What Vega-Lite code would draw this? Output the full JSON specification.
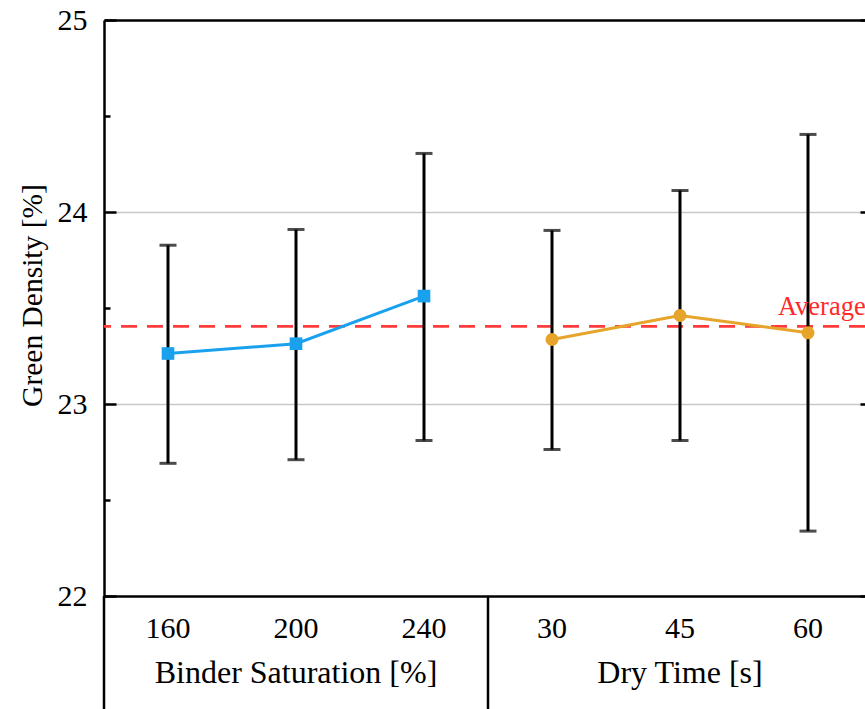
{
  "$schema": "https://vega.github.io/schema/vega-lite/v6.json",
  "autosize": {"type": "none"},
  "padding": {"left": 104, "top": 20, "right": 0, "bottom": 113},
  "width": 761,
  "height": 576,
  "config": {
    "view": {"stroke": null},
    "font": "Liberation Serif",
    "axis": {"labelColor": "black", "titleColor": "black", "tickColor": "black", "domainColor": "black", "titleFontWeight": "normal"}
  },
  "datasets": {
    "pts": [
      {"label": "160", "group": "Binder Saturation", "mean": 23.263, "lo": 22.691, "hi": 23.827},
      {"label": "200", "group": "Binder Saturation", "mean": 23.314, "lo": 22.71, "hi": 23.909},
      {"label": "240", "group": "Binder Saturation", "mean": 23.562, "lo": 22.81, "hi": 24.305},
      {"label": "30", "group": "Dry Time", "mean": 23.336, "lo": 22.763, "hi": 23.904},
      {"label": "45", "group": "Dry Time", "mean": 23.461, "lo": 22.81, "hi": 24.112},
      {"label": "60", "group": "Dry Time", "mean": 23.371, "lo": 22.338, "hi": 24.404}
    ],
    "avg": [{"avg": 23.404, "label": "60", "text": "Average"}],
    "groups": [
      {"label": "200", "name": "Binder Saturation [%]"},
      {"label": "45", "name": "Dry Time [s]"}
    ],
    "seps": [{"label": "160"}, {"label": "30"}]
  },
  "resolve": {"axis": {"x": "independent", "y": "independent"}},
  "layer": [
    {
      "data": {"name": "avg"},
      "mark": {"type": "rule", "color": "#FF3B3B", "strokeWidth": 2.8, "strokeDash": [16, 10]},
      "encoding": {
        "y": {"field": "avg", "type": "quantitative", "scale": {"domain": [22, 25], "nice": false, "zero": false},
          "axis": {"orient": "left", "values": [23, 24], "grid": true, "gridColor": "#C8C8C8", "gridWidth": 1.5, "ticks": false, "labels": false, "domain": false, "title": null}}
      }
    },
    {
      "data": {"name": "pts"},
      "mark": {"type": "rule", "color": "black", "strokeWidth": 3},
      "encoding": {
        "x": {"field": "label", "type": "nominal", "bandPosition": 0.5,
          "scale": {"type": "band", "domain": ["160", "200", "240", "30", "45", "60"], "range": [0, 768], "paddingInner": 0, "paddingOuter": 0},
          "axis": {"orient": "bottom", "title": null, "labelAngle": 0, "labelFontSize": 30, "labelPadding": 17, "ticks": false, "domain": true, "domainWidth": 2.5, "grid": false}},
        "y": {"field": "lo", "type": "quantitative", "scale": {"domain": [22, 25], "nice": false, "zero": false},
          "axis": {"orient": "left", "values": [22, 23, 24, 25], "labelFontSize": 30, "labelPadding": 17, "ticks": false, "domain": true, "domainWidth": 2.5, "grid": false,
            "title": "Green Density [%]", "titleFontSize": 29.5, "titleAngle": -90, "titleX": -63, "titleY": 275, "titleBaseline": "alphabetic", "titleAlign": "center"}},
        "y2": {"field": "hi"}
      }
    },
    {
      "data": {"name": "pts"},
      "mark": {"type": "tick", "color": "black", "size": 17, "thickness": 3, "orient": "horizontal"},
      "encoding": {
        "x": {"field": "label", "type": "nominal", "bandPosition": 0.5,
          "axis": {"orient": "top", "title": null, "labels": false, "ticks": false, "domain": true, "domainWidth": 2.5, "grid": false}},
        "y": {"field": "hi", "type": "quantitative",
          "axis": {"orient": "left", "values": [22, 23, 24, 25], "labels": false, "ticks": true, "tickSize": -12, "tickWidth": 2.5, "domain": false, "grid": false, "title": null}}
      }
    },
    {
      "data": {"name": "pts"},
      "mark": {"type": "tick", "color": "black", "size": 17, "thickness": 3, "orient": "horizontal"},
      "encoding": {
        "x": {"field": "label", "type": "nominal", "bandPosition": 0.5, "axis": null},
        "y": {"field": "lo", "type": "quantitative",
          "axis": {"orient": "left", "values": [22.5, 23.5, 24.5], "labels": false, "ticks": true, "tickSize": -6, "tickWidth": 2.5, "domain": false, "grid": false, "title": null}}
      }
    },
    {
      "data": {"name": "pts"},
      "mark": {"type": "line", "strokeWidth": 3},
      "encoding": {
        "x": {"field": "label", "type": "nominal", "bandPosition": 0.5, "axis": null},
        "y": {"field": "mean", "type": "quantitative",
          "axis": {"orient": "right", "offset": 7, "values": [22, 23, 24, 25], "labels": false, "ticks": true, "tickSize": -12, "tickWidth": 2.5, "domain": false, "grid": false, "title": null}},
        "color": {"field": "group", "type": "nominal", "scale": {"domain": ["Binder Saturation", "Dry Time"], "range": ["#1AA1EE", "#E6A52A"]}, "legend": null}
      }
    },
    {
      "data": {"name": "pts"},
      "mark": {"type": "point", "filled": true, "opacity": 1},
      "encoding": {
        "x": {"field": "label", "type": "nominal", "bandPosition": 0.5, "axis": null},
        "y": {"field": "mean", "type": "quantitative",
          "axis": {"orient": "right", "offset": 7, "values": [22.5, 23.5, 24.5], "labels": false, "ticks": true, "tickSize": -6, "tickWidth": 2.5, "domain": false, "grid": false, "title": null}},
        "color": {"field": "group", "type": "nominal", "legend": null},
        "shape": {"field": "group", "type": "nominal", "scale": {"domain": ["Binder Saturation", "Dry Time"], "range": ["square", "circle"]}, "legend": null},
        "size": {"field": "group", "type": "nominal", "scale": {"domain": ["Binder Saturation", "Dry Time"], "range": [160, 170]}, "legend": null}
      }
    },
    {
      "data": {"name": "avg"},
      "mark": {"type": "text", "color": "#FF2A2A", "fontSize": 26.5, "align": "left", "baseline": "alphabetic", "dy": -11},
      "encoding": {
        "x": {"field": "label", "type": "nominal", "bandPosition": 0.265, "axis": null},
        "y": {"field": "avg", "type": "quantitative", "axis": null},
        "text": {"field": "text"}
      }
    },
    {
      "data": {"name": "groups"},
      "mark": {"type": "text", "color": "black", "fontSize": 32, "align": "center", "baseline": "alphabetic", "dy": 86.5},
      "encoding": {
        "x": {"field": "label", "type": "nominal", "bandPosition": 0.5, "axis": null},
        "y": {"datum": 22, "type": "quantitative", "axis": null},
        "text": {"field": "name"}
      }
    },
    {
      "data": {"name": "seps"},
      "mark": {"type": "rule", "color": "black", "strokeWidth": 2.5},
      "encoding": {
        "x": {"field": "label", "type": "nominal", "bandPosition": 0, "axis": null},
        "y": {"datum": 22, "type": "quantitative", "axis": null},
        "y2": {"datum": 21.4}
      }
    }
  ]
}
